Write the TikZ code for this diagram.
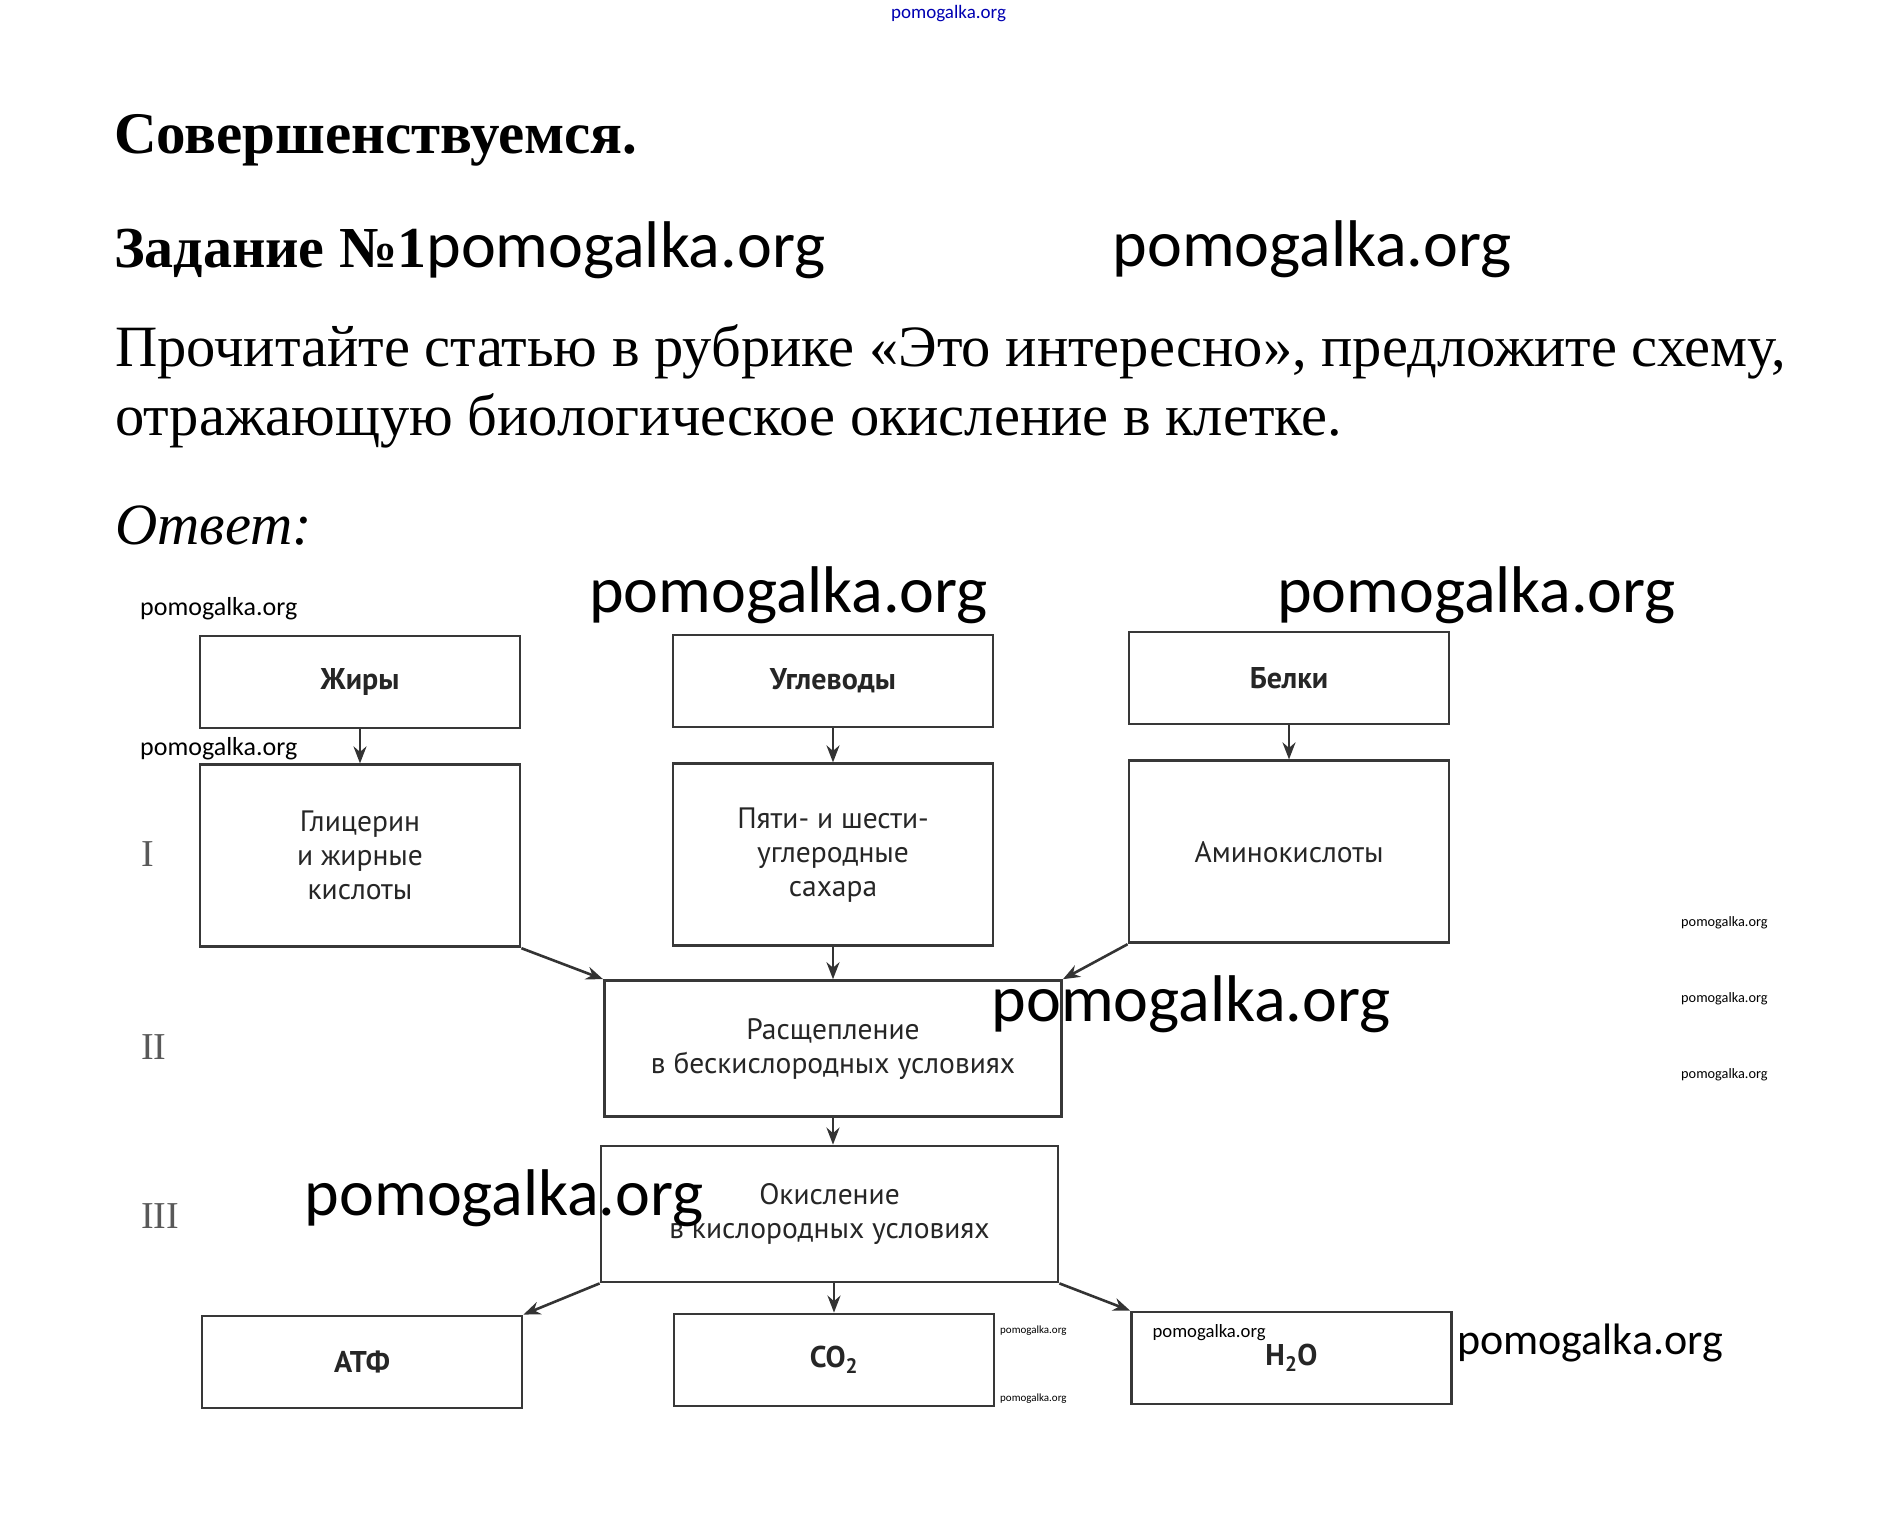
\documentclass[tikz,border=0pt]{standalone}
\usepackage{fontspec}
\setmainfont{Liberation Serif}
\newfontfamily\wmfont{Carlito}
\newfontfamily\boxfont{PT Sans}
\usetikzlibrary{arrows.meta,positioning}
\newcommand{\fsz}[2]{\fontsize{#1pt}{#2pt}\selectfont}

\begin{document}
\begin{tikzpicture}[
  x=1pt, y=-1pt,
  box/.style={draw=black!78, line width=2.8pt, minimum width=320pt, inner sep=0pt, align=center, text=black!85, font=\boxfont\fsz{29.5}{34}},
  hd/.style={box, minimum height=92pt, font=\boxfont\bfseries\fsz{30}{34}},
  wide/.style={box, minimum width=457pt, minimum height=136pt},
  arr/.style={-{Stealth[length=17pt, width=13pt]}, line width=2.6pt, draw=black!80},
  wm/.style={anchor=base west, inner sep=0pt},
  rom/.style={anchor=west, inner sep=0pt, text=black!65, font=\fsz{38}{40}},
  txt/.style={anchor=base west, inner sep=0pt},
  node distance=34pt]
\useasboundingbox[fill=white] (0,0) rectangle (1896,1515);
% --- heading ---
\node[txt, font=\bfseries\fsz{59}{60}] (title) at (114,153) {Совершенствуемся.};
\node[txt, font=\fsz{58}{60}] (task) at (114,267) {\textbf{Задание №1}{\wmfont\fsz{66}{70}pomogalka.org}};
\node[txt, font=\fsz{58.5}{60}] (q1) at (115,366) {Прочитайте статью в рубрике «Это интересно», предложите схему,};
\node[txt, font=\fsz{58.5}{60}] (q2) at (115,435) {отражающую биологическое окисление в клетке.};
\node[txt, font=\itshape\fsz{58.5}{60}] (ans) at (115,544) {Ответ:};
% --- level I ---
\node[hd] (zhiry) at (360,682) {Жиры};
\node[hd] (uglev) at (833,681) {Углеводы};
\node[hd] (belki) at (1289,678) {Белки};
\node[box, minimum height=182pt, below=of zhiry] (glic) {Глицерин\\и жирные\\кислоты};
\node[box, minimum height=182pt, below=of uglev] (sahar) {Пяти- и шести-\\углеродные\\сахара};
\node[box, minimum height=182pt, below=of belki] (amino) {Аминокислоты};
\draw[arr] (zhiry) -- (glic);
\draw[arr] (uglev) -- (sahar);
\draw[arr] (belki) -- (amino);
% --- level II ---
\node[wide, below=32pt of sahar] (rassh) {Расщепление\\в бескислородных условиях};
\draw[arr] (glic.south east) -- (rassh.north west);
\draw[arr] (sahar) -- (rassh);
\draw[arr] (amino.south west) -- (rassh.north east);
% --- level III ---
\node[wide] (okisl) at (829.5,1214) {Окисление\\в кислородных условиях};
\draw[arr] (rassh.south) -- (rassh.south |- okisl.north);
\node[hd] (atf) at (362,1362) {АТФ};
\node[hd] (co) at (834,1360) {CO\textsubscript{2}};
\node[hd] (water) at (1291.5,1358) {H\textsubscript{2}O};
\draw[arr] (okisl.south west) -- (atf.north east);
\draw[arr] (co.north |- okisl.south) -- (co.north);
\draw[arr] (okisl.south east) -- (water.north west);
% --- stages ---
\node[rom] (r1) at (141,854) {I};
\node[rom] (r2) at (141,1047) {II};
\node[rom] (r3) at (141,1216) {III};
% --- watermarks ---
\node[wm, text=blue!70!black, font=\wmfont\fsz{19}{20}] (wm0) at (891,18) {pomogalka.org};
\node[wm, font=\wmfont\fsz{66}{70}] (wm1) at (1112.5,266) {pomogalka.org};
\node[wm, font=\wmfont\fsz{26}{28}] (wm2) at (140,615) {pomogalka.org};
\node[wm, font=\wmfont\fsz{66}{70}] (wm3) at (589,612) {pomogalka.org};
\node[wm, font=\wmfont\fsz{66}{70}] (wm4) at (1277,612) {pomogalka.org};
\node[wm, font=\wmfont\fsz{26}{28}] (wm5) at (140,755) {pomogalka.org};
\node[wm, font=\wmfont\fsz{14.3}{16}] (wm6) at (1681,926) {pomogalka.org};
\node[wm, font=\wmfont\fsz{14.3}{16}] (wm7) at (1681,1002) {pomogalka.org};
\node[wm, font=\wmfont\fsz{14.3}{16}] (wm8) at (1681,1078) {pomogalka.org};
\node[wm, font=\wmfont\fsz{66}{70}] (wm9) at (991.5,1021) {pomogalka.org};
\node[wm, font=\wmfont\fsz{66}{70}] (wm10) at (304.7,1215) {pomogalka.org};
\node[wm, font=\wmfont\fsz{11}{12}] (wm11) at (1000,1333) {pomogalka.org};
\node[wm, font=\wmfont\fsz{11}{12}] (wm12) at (1000,1401) {pomogalka.org};
\node[wm, font=\wmfont\fsz{18.7}{20}] (wm13) at (1152.4,1337) {pomogalka.org};
\node[wm, font=\wmfont\fsz{44}{46}] (wm14) at (1457,1354) {pomogalka.org};
\end{tikzpicture}
\end{document}
